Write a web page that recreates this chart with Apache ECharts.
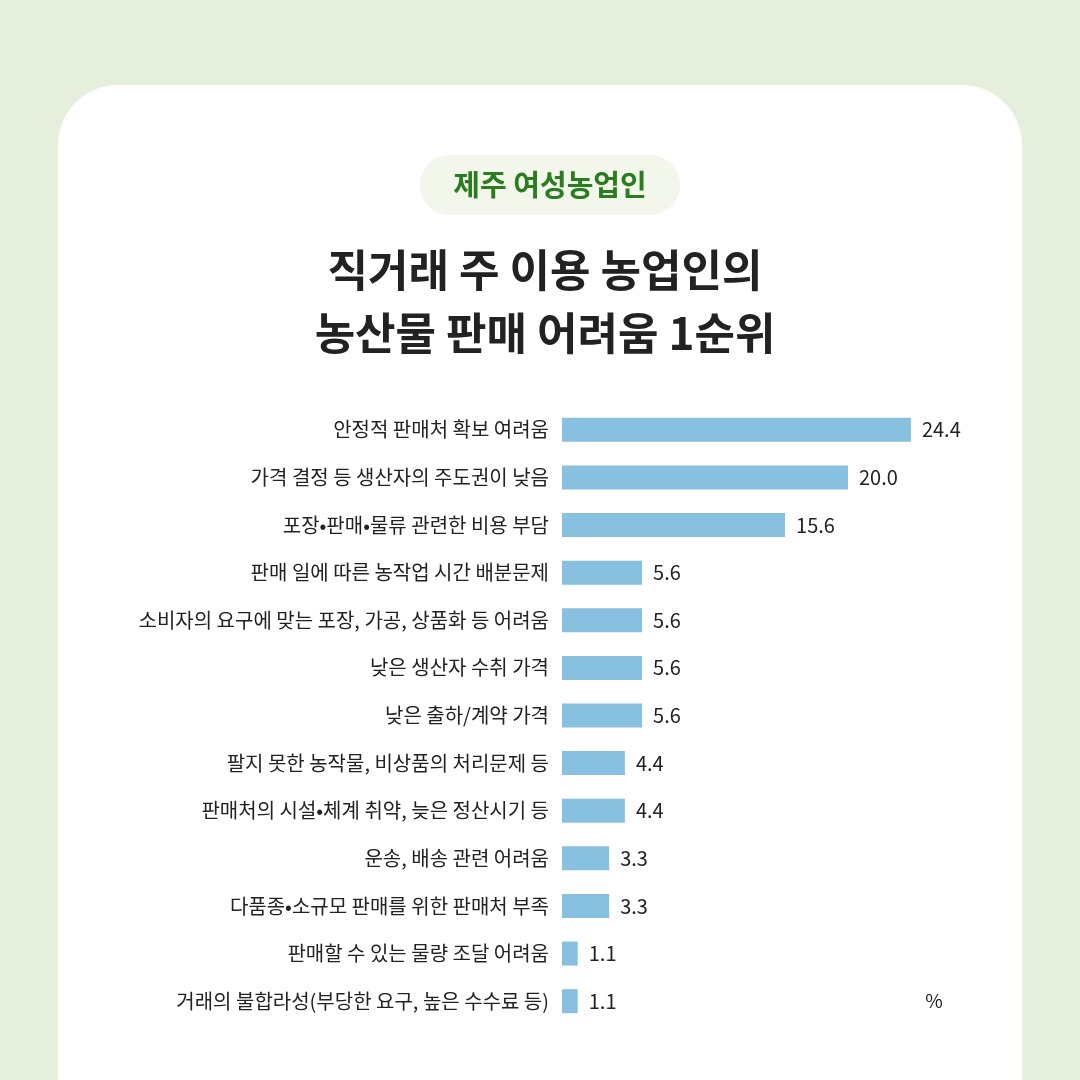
<!DOCTYPE html>
<html>
<head>
<meta charset="utf-8">
<script src="https://cdn.jsdelivr.net/npm/echarts@6/dist/echarts.min.js"></script>
<style>html,body{margin:0;padding:0;background:#e6efdb;}#c{width:1080px;height:1080px;}</style>
</head>
<body>
<div id="c"></div>
<script>
const categories = [
  '안정적 판매처 확보 여려움',
  '가격 결정 등 생산자의 주도권이 낮음',
  '포장•판매•물류 관련한 비용 부담',
  '판매 일에 따른 농작업 시간 배분문제',
  '소비자의 요구에 맞는 포장, 가공, 상품화 등 어려움',
  '낮은 생산자 수취 가격',
  '낮은 출하/계약 가격',
  '팔지 못한 농작물, 비상품의 처리문제 등',
  '판매처의 시설•체계 취약, 늦은 정산시기 등',
  '운송, 배송 관련 어려움',
  '다품종•소규모 판매를 위한 판매처 부족',
  '판매할 수 있는 물량 조달 어려움',
  '거래의 불합라성(부당한 요구, 높은 수수료 등)'
];
const values = [24.4, 20.0, 15.6, 5.6, 5.6, 5.6, 5.6, 4.4, 4.4, 3.3, 3.3, 1.1, 1.1];
const badgeText = '제주 여성농업인';
const titleLines = ['직거래 주 이용 농업인의', '농산물 판매 어려움 1순위'];
const unitText = '%';

const FONT = '"Noto Sans CJK KR", "Noto Sans", sans-serif';
const chart = echarts.init(document.getElementById('c'));
chart.setOption({
  backgroundColor: '#e6efdb',
  animation: false,
  graphic: [
    { type: 'rect', z: -10, shape: { x: 58, y: 85, width: 964, height: 1100, r: 60 }, style: { fill: '#ffffff' } },
    { type: 'rect', shape: { x: 420, y: 155, width: 260, height: 60, r: 30 }, style: { fill: '#f2f6eb' } },
    { type: 'text', x: 550, y: 185, style: { text: badgeText, fill: '#2a7d1f', font: 'bold 29px ' + FONT, align: 'center', verticalAlign: 'middle' } },
    { type: 'text', x: 545, y: 270, style: { text: titleLines[0], fill: '#222222', font: 'bold 44px ' + FONT, align: 'center', verticalAlign: 'middle' } },
    { type: 'text', x: 545, y: 333, style: { text: titleLines[1], fill: '#222222', font: 'bold 44px ' + FONT, align: 'center', verticalAlign: 'middle' } },
    { type: 'text', x: 934, y: 1001, style: { text: unitText, fill: '#222222', font: '19px ' + FONT, align: 'center', verticalAlign: 'middle' } }
  ],
  grid: { left: 562, right: 160.5, top: 406, bottom: 1080 - 1025, containLabel: false },
  xAxis: { type: 'value', min: 0, max: 25, show: false },
  yAxis: {
    type: 'category', data: categories, inverse: true,
    axisLine: { show: false }, axisTick: { show: false }, splitLine: { show: false },
    axisLabel: { margin: 13, color: '#222222', fontSize: 20, fontFamily: FONT }
  },
  series: [{
    type: 'bar', data: values, barWidth: 24,
    itemStyle: { color: '#88c0df' },
    label: {
      show: true, position: 'right', distance: 11, color: '#222222', fontSize: 20, fontFamily: FONT,
      formatter: p => p.value.toFixed(1)
    }
  }]
});
</script>
</body>
</html>
